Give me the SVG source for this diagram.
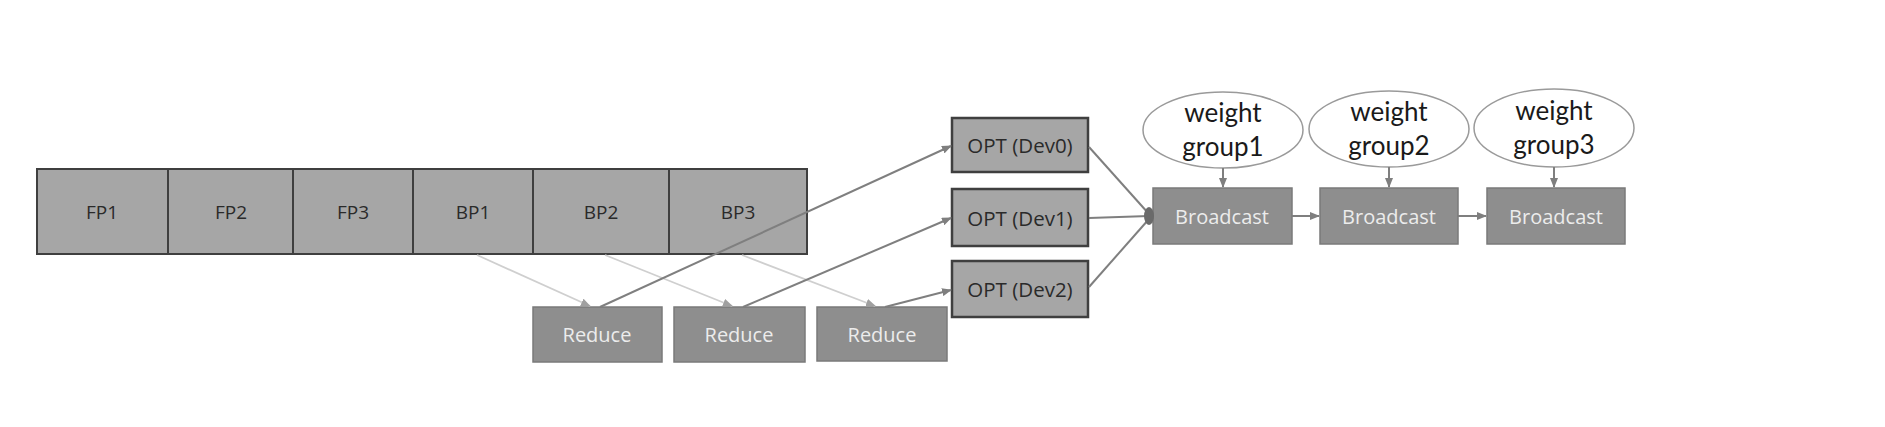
<svg xmlns="http://www.w3.org/2000/svg" width="1885" height="427" viewBox="0 0 1885 427">
<style>
.cell{fill:#a6a6a6;stroke:#3f3f3f;stroke-width:2}
.opt{fill:#a6a6a6;stroke:#3f3f3f;stroke-width:2.5}
.op{fill:#8e8e8e;stroke:#7a7a7a;stroke-width:1.5}
.ell{fill:#ffffff;stroke:#9a9a9a;stroke-width:1.5}
.dk{font-family:"Open Sans","DejaVu Sans",sans-serif;font-size:19px;fill:#2a2a2a;text-anchor:middle;dominant-baseline:central}
.ot{font-size:20.5px}
.lt{font-family:"Open Sans","DejaVu Sans",sans-serif;font-size:20px;fill:#ececec;text-anchor:middle;dominant-baseline:central}
.wt{font-family:Lato,"Liberation Sans",sans-serif;font-size:26px;fill:#1a1a1a;text-anchor:middle}
.c1{fill:none;stroke:#cfcfcf;stroke-width:1.8}
.c2{fill:none;stroke:#7f7f7f;stroke-width:2}
</style>
<defs>
<marker id="ah" markerWidth="10" markerHeight="8" refX="9" refY="4" orient="auto" markerUnits="userSpaceOnUse">
<path d="M0,0 L10,4 L0,8 z" fill="#7f7f7f"/>
</marker>
<marker id="ahl" markerWidth="10" markerHeight="8" refX="9" refY="4" orient="auto" markerUnits="userSpaceOnUse">
<path d="M0,0 L10,4 L0,8 z" fill="#a0a0a0"/>
</marker>
</defs>
<rect width="1885" height="427" fill="#ffffff"/>
<g id="FP1"><rect class="cell" x="37" y="169" width="131" height="85"/><text class="dk" x="102" y="212">FP1</text></g>
<g id="FP2"><rect class="cell" x="168" y="169" width="125" height="85"/><text class="dk" x="231" y="212">FP2</text></g>
<g id="FP3"><rect class="cell" x="293" y="169" width="120" height="85"/><text class="dk" x="353" y="212">FP3</text></g>
<g id="BP1"><rect class="cell" x="413" y="169" width="120" height="85"/><text class="dk" x="473" y="212">BP1</text></g>
<g id="BP2"><rect class="cell" x="533" y="169" width="136" height="85"/><text class="dk" x="601" y="212">BP2</text></g>
<g id="BP3"><rect class="cell" x="669" y="169" width="138" height="85"/><text class="dk" x="738" y="212">BP3</text></g>
<g id="Reduce1"><rect class="op" x="533" y="307" width="129" height="55"/><text class="lt" x="597" y="334">Reduce</text></g>
<g id="Reduce2"><rect class="op" x="674" y="307" width="131" height="55"/><text class="lt" x="739" y="334">Reduce</text></g>
<g id="Reduce3"><rect class="op" x="817" y="307" width="130" height="54"/><text class="lt" x="882" y="334">Reduce</text></g>
<g id="OPT0"><rect class="opt" x="952" y="118" width="136" height="54"/><text class="dk ot" x="1020" y="145">OPT (Dev0)</text></g>
<g id="OPT1"><rect class="opt" x="952" y="189" width="136" height="57"/><text class="dk ot" x="1020" y="218">OPT (Dev1)</text></g>
<g id="OPT2"><rect class="opt" x="952" y="261" width="136" height="56"/><text class="dk ot" x="1020" y="289">OPT (Dev2)</text></g>
<g id="Broadcast1"><rect class="op" x="1153" y="188" width="139" height="56"/><text class="lt" x="1222" y="216">Broadcast</text></g>
<g id="Broadcast2"><rect class="op" x="1320" y="188" width="138" height="56"/><text class="lt" x="1389" y="216">Broadcast</text></g>
<g id="Broadcast3"><rect class="op" x="1487" y="188" width="138" height="56"/><text class="lt" x="1556" y="216">Broadcast</text></g>
<g id="WG1"><ellipse class="ell" cx="1223" cy="130" rx="80" ry="38"/><text class="wt" x="1223" y="122">weight</text><text class="wt" x="1223" y="156">group1</text></g>
<g id="WG2"><ellipse class="ell" cx="1389" cy="129" rx="80" ry="38"/><text class="wt" x="1389" y="121">weight</text><text class="wt" x="1389" y="155">group2</text></g>
<g id="WG3"><ellipse class="ell" cx="1554" cy="128" rx="80" ry="39"/><text class="wt" x="1554" y="120">weight</text><text class="wt" x="1554" y="154">group3</text></g>
<g id="connectors">
<line class="c1" x1="477" y1="255" x2="590" y2="306" marker-end="url(#ahl)"/>
<line class="c1" x1="605" y1="255" x2="732" y2="306" marker-end="url(#ahl)"/>
<line class="c1" x1="742" y1="255" x2="875" y2="306" marker-end="url(#ahl)"/>
<line class="c2" x1="600" y1="307" x2="951" y2="146" marker-end="url(#ah)"/>
<line class="c2" x1="743" y1="307" x2="951" y2="218" marker-end="url(#ah)"/>
<line class="c2" x1="885" y1="307" x2="951" y2="290" marker-end="url(#ah)"/>
<line class="c2" x1="1089" y1="147" x2="1149" y2="214"/>
<line class="c2" x1="1089" y1="218" x2="1149" y2="216"/>
<line class="c2" x1="1089" y1="287" x2="1149" y2="219"/>
<ellipse cx="1149" cy="216" rx="5" ry="9" fill="#6a6a6a"/>
<line class="c2" x1="1223" y1="168" x2="1223" y2="187" marker-end="url(#ah)"/>
<line class="c2" x1="1389" y1="167" x2="1389" y2="187" marker-end="url(#ah)"/>
<line class="c2" x1="1554" y1="167" x2="1554" y2="187" marker-end="url(#ah)"/>
<line class="c2" x1="1292" y1="216" x2="1319" y2="216" marker-end="url(#ah)"/>
<line class="c2" x1="1458" y1="216" x2="1486" y2="216" marker-end="url(#ah)"/>
</g>
</svg>
